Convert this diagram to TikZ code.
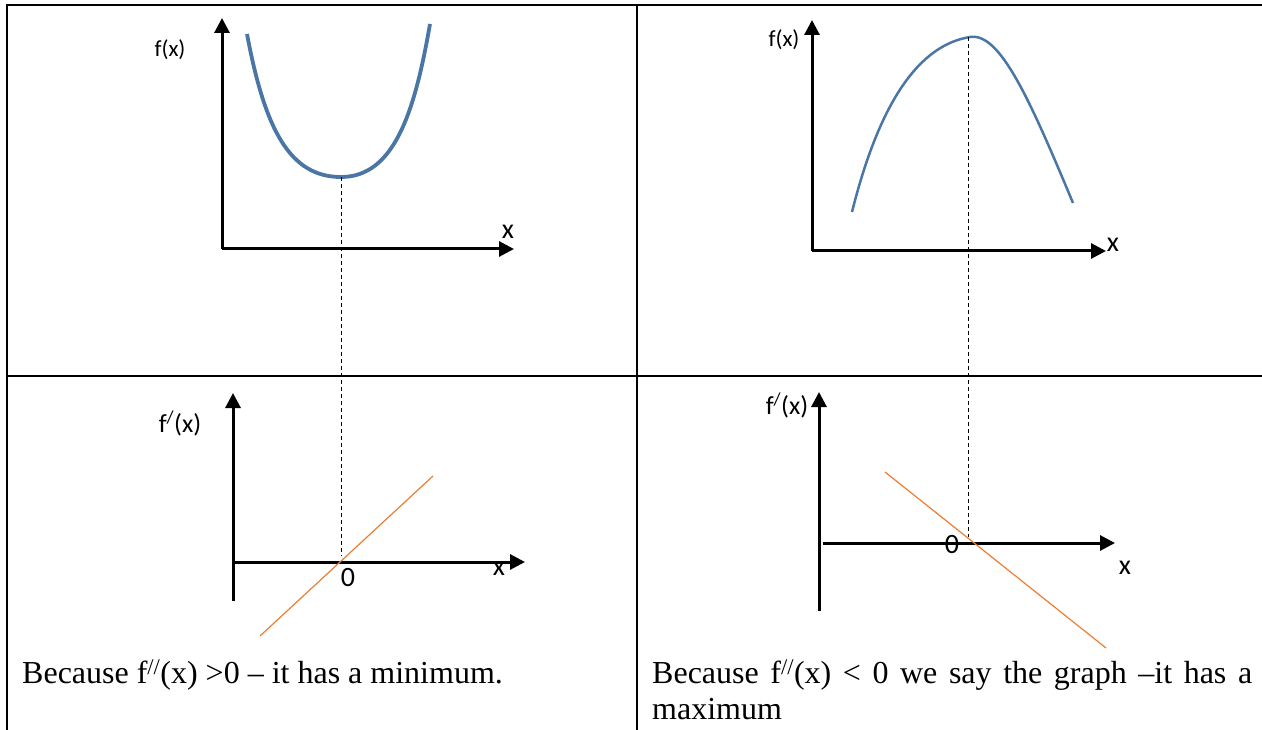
\documentclass[tikz,border=0pt]{standalone}
\usepackage{fontspec}
\setmainfont{Liberation Serif}
\newfontfamily\labelfont{Carlito}
\usetikzlibrary{arrows.meta,positioning}
\definecolor{curveblue}{HTML}{4A76A6}
\definecolor{slopeorange}{HTML}{ED7D31}
\hyphenpenalty=10000

\begin{document}
\begin{tikzpicture}[x=1pt,y=-1pt,
  grid/.style={line width=2pt,black},
  axis/.style={line width=3pt,black,-{Triangle[length=15pt,width=15pt]}},
  fcurve/.style={curveblue,line width=3.8pt},
  slope/.style={slopeorange,line width=1.2pt},
  guide/.style={line width=0.9pt,dash pattern=on 4pt off 3pt},
  lbl/.style={font=\labelfont\fontsize{#1}{#1}\selectfont,inner sep=0pt},
  lbl/.default=28,
  captext/.style={font=\fontsize{32}{36}\selectfont,inner sep=0pt,anchor=north west}
]
\useasboundingbox (0,0) rectangle (1262,730);

% table frame
\coordinate (tl) at (7,5);
\coordinate (tr) at (1262,5);
\coordinate (bl) at (7,730);
\coordinate (mt) at (637,5);
\coordinate (mb) at (637,730);
\coordinate (ml) at (7,376);
\coordinate (mr) at (1262,376);
\draw[grid] (bl) -- (tl) -- (tr);
\draw[grid] (mt) -- (mb);
\draw[grid] (ml) -- (mr);

% top left: f(x) with a minimum
\coordinate (minO) at (222,249);
\coordinate (minY) at (222,18);
\coordinate (minX) at (514,249);
\draw[axis] (minO) -- (minY);
\draw[axis] (minO) -- (minX);
\coordinate (minA) at (247,34);
\coordinate (minP) at (341,177);
\coordinate (minB) at (430,24);
\draw[fcurve] (minA) .. controls (265,130) and (290,177) .. (minP)
  .. controls (395,177) and (415,110) .. (minB);
\node[lbl=23] (minfx) at (170,50) {f(x)};
\node[lbl] (minx) at (508,232) {x};

% top right: f(x) with a maximum
\coordinate (maxO) at (812,251);
\coordinate (maxY) at (812,20);
\coordinate (maxX) at (1106,251);
\draw[axis] (maxO) -- (maxY);
\draw[axis] (maxO) -- (maxX);
\coordinate (maxA) at (852,212);
\coordinate (maxP) at (970,37);
\coordinate (maxB) at (1073,203);
\draw[fcurve,line width=2.5pt] (maxA) .. controls (880,100) and (920,45) .. (maxP)
  .. controls (1000,32) and (1030,100) .. (maxB);
\node[lbl=23] (maxfx) at (784,40) {f(x)};
\node[lbl] (maxx) at (1113,245) {x};

% bottom left: rising derivative
\coordinate (dminO) at (233,562);
\coordinate (dminY) at (233,393);
\coordinate (dminD) at (233,601);
\coordinate (dminX) at (525,562);
\draw[axis] (dminD) -- (dminY);
\draw[axis] (dminO) -- (dminX);
\coordinate (dminA) at (260,636);
\coordinate (dminB) at (433,476);
\draw[slope] (dminA) -- (dminB);
\node[lbl=26] (dminfx) at (180,423) {f\textsuperscript{/}(x)};
\node[lbl] (dmin0) at (348,578) {0};
\node[lbl] (dminx) at (499,569) {x};

% bottom right: falling derivative
\coordinate (dmaxO) at (823,543);
\coordinate (dmaxY) at (819,392);
\coordinate (dmaxD) at (819,611);
\coordinate (dmaxX) at (1115,543);
\draw[axis] (dmaxD) -- (dmaxY);
\draw[axis] (dmaxO) -- (dmaxX);
\coordinate (dmaxA) at (885,472);
\coordinate (dmaxB) at (1106,648);
\draw[slope] (dmaxA) -- (dmaxB);
\node[lbl=26] (dmaxfx) at (787,405) {f\textsuperscript{/}(x)};
\node[lbl] (dmax0) at (952,545) {0};
\node[lbl] (dmaxx) at (1125,568) {x};

% guides from the turning points to the zero crossings
\coordinate (dminZ) at (341,556);
\coordinate (dmaxZ) at (968,537);
\draw[guide] (minP) -- (dminZ);
\draw[guide] (968,37) -- (dmaxZ);

% captions
\node[captext] (mincap) at (22,660)
  {Because f\textsuperscript{//}(x) >0 – it has a minimum.};
\node[captext,text width=600pt,align=justify] (maxcap) at (652,660)
  {Because f\textsuperscript{//}(x) < 0 we say the graph –it has a maximum};
\end{tikzpicture}
\end{document}
